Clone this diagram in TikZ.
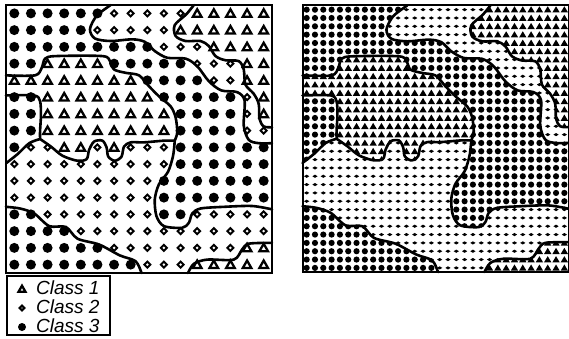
\documentclass[tikz,border=0pt]{standalone}
\usepackage{fontspec}
\setmainfont{Liberation Sans}
\tikzset{
  frame/.style  ={draw, line width=2pt},
  bound/.style  ={line width=2.6pt, line join=round, line cap=round},
  keybox/.style ={draw, line width=1.3pt},
  keytext/.style={font=\fontsize{19}{19}\selectfont\itshape, inner sep=0pt, anchor=base west},
  % class marks: 1 triangle, 2 diamond, 3 dot
  pics/big/.style={code={\ifcase#1\or
      \draw[line width=2.3pt, line join=miter] (-4.3pt,-3.4pt) -- (4.3pt,-3.4pt) -- (0pt,4.1pt) -- cycle;\or
      \draw[line width=2pt] (-3pt,0pt) -- (0pt,3pt) -- (3pt,0pt) -- (0pt,-3pt) -- cycle;\or
      \fill (0pt,0pt) circle (5pt);\fi}},
  pics/small/.style={code={\ifcase#1\or
      \fill (-3.7pt,-2.8pt) -- (3.7pt,-2.8pt) -- (0pt,3.4pt) -- cycle;\or
      \fill (-2.6pt,0pt) -- (0pt,1.6pt) -- (2.6pt,0pt) -- (0pt,-1.6pt) -- cycle;\or
      \fill (0pt,0pt) circle (3.1pt);\fi}},
  % class borders, in map cells
  curveA/.style={insert path={-- plot[smooth] coordinates {(11.3,0) (10.85,0.55) (10.15,1.2) (10.2,1.85) (10.8,2.15) (11.7,2.15) (12.2,2.45) (12.6,3.05) (13.2,3.3) (14.0,3.35) (14.3,3.85) (14.4,4.75) (14.9,5.3) (15.2,5.9) (15.25,6.8) (15.5,7.25) (16,7.3)}}},
  curveB/.style={insert path={-- plot[smooth] coordinates {(6.3,0) (5.45,0.65) (5.05,1.45) (5.35,2.0) (6.3,2.15) (7.6,2.05) (8.35,2.2) (8.95,2.75) (9.7,3.15) (10.8,3.2) (11.5,3.65) (12.2,4.55) (12.95,5.1) (13.9,5.2) (14.35,5.7) (14.3,7.2) (14.6,8.05) (15.2,8.25) (16,8.25)}}},
  curveC/.style={insert path={-- plot[smooth] coordinates {(0,4.2) (1.75,4.2) (2.15,3.75) (2.35,3.2) (3.0,3.05) (5.8,3.05) (6.25,3.35) (6.5,3.85) (7.2,4.05) (8.0,4.2) (8.6,4.85) (9.2,5.45) (9.9,6.05) (10.2,6.7) (10.3,7.6) (10.15,8.1)}}},
  curveCr/.style={insert path={-- plot[smooth] coordinates {(10.15,8.1) (10.3,7.6) (10.2,6.7) (9.9,6.05) (9.2,5.45) (8.6,4.85) (8.0,4.2) (7.2,4.05) (6.5,3.85) (6.25,3.35) (5.8,3.05) (3.0,3.05) (2.35,3.2) (2.15,3.75) (1.75,4.2) (0,4.2)}}},
  curveD/.style={insert path={-- plot[smooth] coordinates {(2.05,8.0) (2.7,8.45) (3.4,9.0) (4.3,9.3) (4.85,9.2) (5.0,8.65) (5.3,8.15) (5.8,8.1) (6.05,8.5) (6.15,9.05) (6.55,9.3) (6.95,9.05) (7.1,8.45) (7.5,8.2) (8.3,8.2) (9.5,8.1) (10.15,8.1)}}},
  curveE/.style={insert path={-- plot[smooth] coordinates {(10.15,8.1) (10.05,9.0) (9.75,9.95) (9.2,10.7) (8.95,11.6) (9.05,12.6) (9.5,13.2) (10.6,13.3) (11.0,13.0) (11.2,12.45) (11.7,12.15) (13.1,12.05) (14.8,12.0) (16,12.2)}}},
  curveEr/.style={insert path={-- plot[smooth] coordinates {(16,12.2) (14.8,12.0) (13.1,12.05) (11.7,12.15) (11.2,12.45) (11.0,13.0) (10.6,13.3) (9.5,13.2) (9.05,12.6) (8.95,11.6) (9.2,10.7) (9.75,9.95) (10.05,9.0) (10.15,8.1)}}},
  curveF/.style={insert path={-- plot[smooth] coordinates {(0,12.05) (0.85,12.15) (1.7,12.45) (2.6,13.2) (3.6,13.25) (4.3,13.95) (5.6,14.3) (6.85,14.95) (7.8,15.3) (8.15,16)}}},
  curveG/.style={insert path={-- plot[smooth] coordinates {(10.95,16) (11.3,15.45) (12.1,15.2) (13.7,15.2) (14.2,14.6) (14.6,14.25) (16,14.2)}}},
  curveH/.style={insert path={-- plot[smooth] coordinates {(0,5.4) (1.7,5.4) (2.05,5.75) (2.1,6.6) (2.05,7.5) (2.05,8.0)}}},
  curveI/.style={insert path={-- plot[smooth] coordinates {(2.05,8.0) (1.4,8.25) (0.7,8.9) (0,9.45)}}},
}

\begin{document}
\begin{tikzpicture}[x=1pt,y=-1pt]
  \useasboundingbox (0,0) rectangle (569,339);

  % left map, 16 x 16 samples
  \begin{scope}[shift={(6,5)}, x=16.625pt, y=-16.75pt]
    \foreach \rw [count=\r] in {
      {3,3,3,3,3,3,2,2,2,2,2,1,1,1,1,1},
      {3,3,3,3,3,2,2,2,2,2,1,1,1,1,1,1},
      {3,3,3,3,3,3,3,3,3,2,2,2,1,1,1,1},
      {3,3,1,1,1,1,3,3,3,3,3,2,2,2,1,1},
      {1,1,1,1,1,1,1,1,3,3,3,3,2,2,1,1},
      {3,3,1,1,1,1,1,1,1,3,3,3,3,3,2,1},
      {3,3,1,1,1,1,1,1,1,1,3,3,3,3,2,1},
      {3,3,1,1,1,1,1,1,1,1,3,3,3,3,2,2},
      {3,2,2,1,1,2,1,2,2,2,3,3,3,3,3,3},
      {2,2,2,2,2,2,2,2,2,2,3,3,3,3,3,3},
      {2,2,2,2,2,2,2,2,2,3,3,3,3,3,3,3},
      {2,2,2,2,2,2,2,2,2,3,3,3,3,3,3,3},
      {3,3,2,2,2,2,2,2,2,3,3,2,2,2,2,2},
      {3,3,3,3,2,2,2,2,2,2,2,2,2,2,2,2},
      {3,3,3,3,3,3,2,2,2,2,2,2,2,2,1,1},
      {3,3,3,3,3,3,3,3,2,2,2,1,1,1,1,1}}
      \foreach \k [count=\c] in \rw
        \pic at (\c-0.5,\r-0.5) {big=\k};
    \draw[bound] (11.3,0) [curveA] (6.3,0) [curveB] (0,4.2) [curveC] (2.05,8) [curveD]
                 (10.15,8.1) [curveE] (0,12.05) [curveF] (10.95,16) [curveG]
                 (0,5.4) [curveH] (2.05,8) [curveI];
    \draw[frame] (0,0) rectangle (16,16);
  \end{scope}

  % right map, 32 x 32 samples
  \begin{scope}[shift={(302.5,5.5)}, x=16.625pt, y=-16.66pt]
    \begin{scope}
      \clip (11.3,0) [curveA] -- (16,0) -- cycle
            (0,5.4) [curveH] [curveD] [curveCr] -- cycle
            (10.95,16) [curveG] -- (16,16) -- cycle;
      \foreach \i in {0,...,31} \foreach \j in {0,...,31}
        \pic at (\i/2+0.25,\j/2+0.25) {small=1};
    \end{scope}
    \begin{scope}[even odd rule]
      \clip (0,0) rectangle (16,16)
            (11.3,0) [curveA] -- (16,0) -- cycle
            (0,5.4) [curveH] [curveD] [curveCr] -- cycle
            (10.95,16) [curveG] -- (16,16) -- cycle
            (0,0) [curveB] -- (16,12.2) [curveEr] [curveCr] -- cycle
            (0,5.4) [curveH] [curveI] -- cycle
            (0,12.05) [curveF] -- (0,16) -- cycle;
      \foreach \i in {0,...,31} \foreach \j in {0,...,31}
        \pic at (\i/2+0.25,\j/2+0.25) {small=2};
    \end{scope}
    \begin{scope}
      \clip (0,0) [curveB] -- (16,12.2) [curveEr] [curveCr] -- cycle
            (0,5.4) [curveH] [curveI] -- cycle
            (0,12.05) [curveF] -- (0,16) -- cycle;
      \foreach \i in {0,...,31} \foreach \j in {0,...,31}
        \pic at (\i/2+0.25,\j/2+0.25) {small=3};
    \end{scope}
    \draw[bound] (11.3,0) [curveA] (6.3,0) [curveB] (0,4.2) [curveC] (2.05,8) [curveD]
                 (10.15,8.1) [curveE] (0,12.05) [curveF] (10.95,16) [curveG]
                 (0,5.4) [curveH] (2.05,8) [curveI];
    \draw[frame] (0,0) rectangle (16,16);
  \end{scope}

  % legend
  \draw[keybox] (7,276) rectangle (110,335);
  \pic[scale=.8] at (22,289) {big=1};
  \pic[scale=.8] at (22,308) {big=2};
  \pic[scale=.8] at (22,327) {big=3};
  \node[keytext] (key1) at (36,294) {Class 1};
  \node[keytext] (key2) at (36,313) {Class 2};
  \node[keytext] (key3) at (36,332) {Class 3};
\end{tikzpicture}
\end{document}
